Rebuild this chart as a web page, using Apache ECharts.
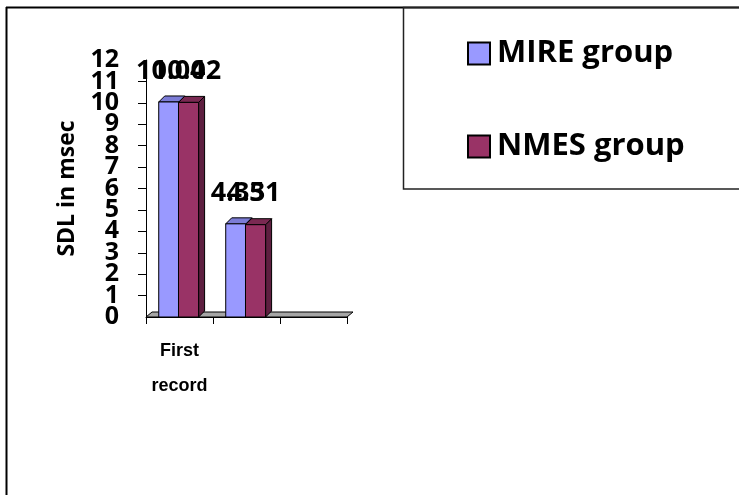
<!DOCTYPE html>
<html>
<head>
<meta charset="utf-8">
<script src="https://cdn.jsdelivr.net/npm/echarts@6/dist/echarts.min.js"></script>
<style>
  html, body { margin: 0; padding: 0; background: #fff; }
  #chart { width: 739px; height: 495px; }
</style>
</head>
<body>
<div id="chart"></div>
<script>
// Category slots along the floor; only the first one is labelled
const categories = ['First record', '', ''];
// Standard deviation of latency (msec) per group
const mireValues = [10.04, 4.35];
const nmesValues = [10.02, 4.31];
// Value-axis range
const yMin = 0;
const yMax = 12;
const yStep = 1;

const DEPTH_X = 6;
const DEPTH_Y = -6;
const LABEL_FONT = '"Open Sans", "Liberation Sans", sans-serif';

// Draws one pseudo-3D column: side, top, front face and value label
function columnRenderer(startFrac, widthFrac, colors, labelShift) {
  return function (params, api) {
    const cat = api.value(0);
    const val = api.value(1);
    const base = api.coord([cat, 0]);
    const top = api.coord([cat, val]);
    const band = api.size([1, 0])[0];
    const x0 = base[0] + startFrac * band;
    const w = widthFrac * band;
    const x1 = x0 + w;
    const yTop = top[1];
    const yBot = base[1];
    return {
      type: 'group',
      children: [
        {
          type: 'polygon',
          shape: { points: [[x1, yBot], [x1 + DEPTH_X, yBot + DEPTH_Y], [x1 + DEPTH_X, yTop + DEPTH_Y], [x1, yTop]] },
          style: { fill: colors.side, stroke: '#000', lineWidth: 1 }
        },
        {
          type: 'polygon',
          shape: { points: [[x0, yTop], [x0 + DEPTH_X, yTop + DEPTH_Y], [x1 + DEPTH_X, yTop + DEPTH_Y], [x1, yTop]] },
          style: { fill: colors.top, stroke: '#000', lineWidth: 1 }
        },
        {
          type: 'rect',
          shape: { x: x0, y: yTop, width: w, height: yBot - yTop },
          style: { fill: colors.front, stroke: '#000', lineWidth: 1 }
        },
        {
          type: 'text',
          style: {
            text: val.toFixed(2),
            x: x0 + w / 2 + DEPTH_X / 2 + labelShift,
            y: yTop - 31,
            align: 'center',
            verticalAlign: 'middle',
            fontSize: 27,
            fontWeight: 'bold',
            fontFamily: LABEL_FONT,
            fill: '#000'
          }
        }
      ]
    };
  };
}

// Grey floor slab under the columns
function floorRenderer(params, api) {
  const cs = params.coordSys;
  const yb = cs.y + cs.height;
  const xl = cs.x;
  const xr = cs.x + cs.width;
  return {
    type: 'polygon',
    shape: { points: [[xl, yb], [xr, yb], [xr + DEPTH_X, yb + DEPTH_Y + 1], [xl + DEPTH_X, yb + DEPTH_Y + 1]] },
    style: { fill: '#a6a6a6', stroke: '#000', lineWidth: 1 }
  };
}

const tickLabelStyle = {
  margin: 27,
  color: '#000',
  fontSize: 25,
  fontWeight: 'bold',
  fontFamily: LABEL_FONT
};

const chart = echarts.init(document.getElementById('chart'), null, { renderer: 'canvas' });

const option = {
  backgroundColor: '#fff',
  animation: false,
  grid: { left: 146, top: 60, width: 201, height: 257 },
  legend: {
    orient: 'vertical',
    left: 462,
    top: 33,
    itemWidth: 22,
    itemHeight: 22,
    itemGap: 62,
    icon: 'rect',
    selectedMode: false,
    data: [
      { name: 'MIRE group', itemStyle: { color: '#9999FF', borderColor: '#000', borderWidth: 2 } },
      { name: 'NMES group', itemStyle: { color: '#993366', borderColor: '#000', borderWidth: 2 } }
    ],
    textStyle: { fontSize: 31, fontWeight: 'bold', fontFamily: LABEL_FONT, color: '#000', padding: [0, 0, 0, 2] }
  },
  xAxis: {
    type: 'category',
    data: categories,
    axisLine: { lineStyle: { color: '#000', width: 1 } },
    axisTick: { show: true, length: 7, lineStyle: { color: '#000' } },
    axisLabel: {
      interval: 0,
      margin: 17,
      color: '#000',
      fontSize: 18,
      fontWeight: 'bold',
      fontFamily: '"Liberation Sans", Arial, sans-serif',
      lineHeight: 35,
      formatter: v => v.replace(' ', '\n')
    },
    splitLine: { show: false }
  },
  yAxis: [
    {
      // main value axis: line, ticks, name and the inner tick labels
      type: 'value',
      min: yMin,
      max: yMax,
      interval: yStep,
      name: 'SDL in msec',
      nameLocation: 'middle',
      nameGap: 67,
      nameTextStyle: { fontSize: 23, fontWeight: 'bold', fontFamily: LABEL_FONT, color: '#000' },
      axisLine: { show: true, lineStyle: { color: '#000', width: 1 } },
      axisTick: { show: true, length: 8, lineStyle: { color: '#000' } },
      axisLabel: Object.assign({ showMinLabel: false, showMaxLabel: false }, tickLabelStyle),
      splitLine: { show: false }
    },
    {
      // companion axis carrying only the end labels (0 and 12)
      type: 'value',
      position: 'left',
      min: yMin,
      max: yMax,
      interval: yStep,
      axisLine: { show: false },
      axisTick: { show: false },
      splitLine: { show: false },
      axisLabel: Object.assign({
        showMinLabel: true,
        showMaxLabel: true,
        formatter: v => (v === yMin || v === yMax) ? String(v) : ''
      }, tickLabelStyle)
    }
  ],
  graphic: [
    { type: 'line', shape: { x1: 6, y1: 7.5, x2: 739, y2: 7.5 }, style: { stroke: '#000', lineWidth: 2 } },
    { type: 'line', shape: { x1: 6.5, y1: 7, x2: 6.5, y2: 495 }, style: { stroke: '#000', lineWidth: 2 } },
    { type: 'rect', shape: { x: 403.5, y: 7.5, width: 340, height: 181.5 }, style: { fill: 'none', stroke: '#222', lineWidth: 1.5 } }
  ],
  series: [
    {
      type: 'custom',
      name: 'floor',
      silent: true,
      renderItem: floorRenderer,
      data: [[0, 0]]
    },
    {
      type: 'custom',
      name: 'MIRE group',
      itemStyle: { color: '#9999FF' },
      renderItem: columnRenderer(-0.31, 0.3, { front: '#9999FF', top: '#7c7cd6', side: '#6666b3' }, -1),
      data: mireValues.map((v, i) => [i, v])
    },
    {
      type: 'custom',
      name: 'NMES group',
      itemStyle: { color: '#993366' },
      renderItem: columnRenderer(-0.015, 0.3, { front: '#993366', top: '#7a2952', side: '#5e1f40' }, -5),
      data: nmesValues.map((v, i) => [i, v])
    }
  ]
};

chart.setOption(option);
</script>
</body>
</html>
